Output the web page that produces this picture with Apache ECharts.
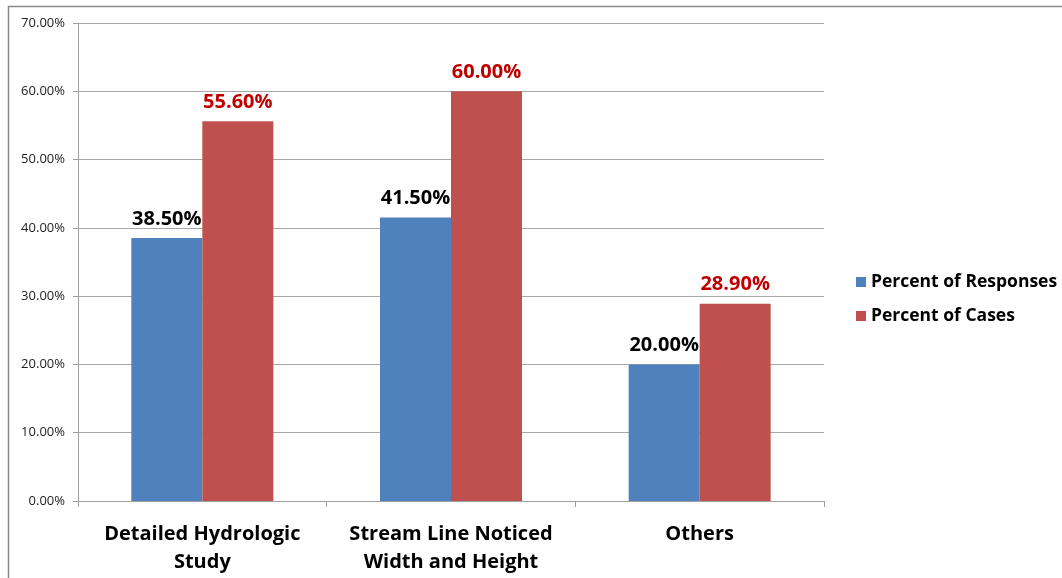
<!DOCTYPE html>
<html><head><meta charset="utf-8">
<script src="https://cdn.jsdelivr.net/npm/echarts@6/dist/echarts.min.js"></script>
<style>html,body{margin:0;padding:0;background:#fff}#c{width:1062px;height:578px}</style>
</head><body><div id="c"></div>
<script>
var categories = ['Detailed Hydrologic\nStudy', 'Stream Line Noticed\nWidth and Height', 'Others'];
var responses = [38.5, 41.5, 20.0];
var cases = [55.6, 60.0, 28.9];
var seriesNames = ['Percent of Responses', 'Percent of Cases'];
var yTicks = {min: 0, max: 70, interval: 10};

var chart = echarts.init(document.getElementById('c'));
var font = '"Open Sans", sans-serif';
chart.setOption({
  animation: false,
  graphic: [{type: 'rect', shape: {x: 8.5, y: 6.5, width: 1100, height: 700}, style: {fill: 'none', stroke: '#8a8a8a', lineWidth: 1.5}, z: -1}],
  grid: {left: 78, right: 238, top: 23, bottom: 77},
  legend: {
    orient: 'vertical', left: 851, top: 267, itemWidth: 10, itemHeight: 10, itemGap: 14,
    icon: 'rect',
    textStyle: {fontFamily: font, fontWeight: 'bold', fontSize: 17.5, lineHeight: 20, color: '#000'},
    data: seriesNames
  },
  xAxis: {
    type: 'category', data: categories,
    axisLine: {lineStyle: {color: '#a0a0a0'}},
    axisTick: {show: true, length: 6, lineStyle: {color: '#a0a0a0'}},
    axisLabel: {interval: 0, hideOverlap: false, fontFamily: font, fontWeight: 'bold', fontSize: 20, color: '#000', lineHeight: 28, margin: 19}
  },
  yAxis: {
    type: 'value', min: yTicks.min, max: yTicks.max, interval: yTicks.interval,
    axisLine: {show: true, lineStyle: {color: '#a0a0a0'}},
    axisTick: {show: true, length: 5, lineStyle: {color: '#a0a0a0'}},
    splitLine: {lineStyle: {color: '#a8a8a8'}},
    axisLabel: {fontFamily: font, fontSize: 13, color: '#222', margin: 13,
      formatter: function (v) { return v.toFixed(2) + '%'; }}
  },
  series: [
    {name: seriesNames[0], type: 'bar', data: responses, barWidth: 71, barGap: '0%',
     itemStyle: {color: '#4F81BD'},
     label: {show: true, position: 'top', distance: 9, fontFamily: font, fontWeight: 'bold', fontSize: 20, color: '#000',
       formatter: function (p) { return p.value.toFixed(2) + '%'; }}},
    {name: seriesNames[1], type: 'bar', data: cases, barWidth: 71, barGap: '0%',
     itemStyle: {color: '#C0504D'},
     label: {show: true, position: 'top', distance: 9, fontFamily: font, fontWeight: 'bold', fontSize: 20, color: '#C00000',
       formatter: function (p) { return p.value.toFixed(2) + '%'; }}}
  ]
});
</script></body></html>
